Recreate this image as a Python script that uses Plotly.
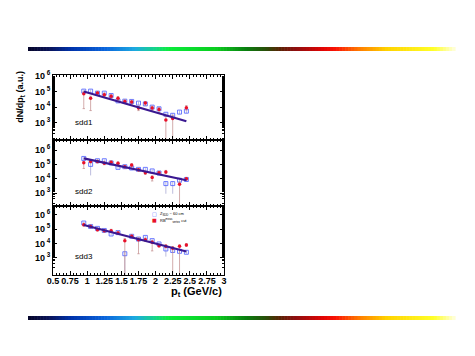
import numpy as np
import plotly.graph_objects as go

# ---------------- data ----------------
pt = [0.95, 1.05, 1.15, 1.25, 1.35, 1.45, 1.55, 1.65, 1.75, 1.85, 1.95, 2.05, 2.15, 2.25, 2.35, 2.45]

red1    = [7.1e4, 3.7e4, 8.1e4, 6.2e4, 5.0e4, 3.7e4, 2.3e4, 2.1e4, 8.7e3, 1.8e4, 8.7e3, 7.1e3, 1.5e3, 1.9e3, None, 9.1e3]
red1_lo = [8e3, 6e3, 6.0e4, 4.6e4, 3.7e4, 2.7e4, 1.7e4, 1.5e4, 6.0e3, 1.3e4, 6.0e3, 4.5e3, 1, 1, None, 6.5e3]
red1_hi = [9.5e4, 5.0e4, 1.0e5, 7.8e4, 6.3e4, 4.7e4, 2.9e4, 2.7e4, 1.15e4, 2.3e4, 1.15e4, 9.5e3, 2.6e3, 3.0e3, None, 1.25e4]
blue1    = [1.05e5, 1.05e5, 7.8e4, 7.8e4, 5.5e4, 2.5e4, 2.4e4, 2.3e4, 1.8e4, 1.6e4, 1.0e4, 7.8e3, 3.5e3, 3.0e3, 4.8e3, 5.5e3]
blue1_lo = [8.5e4, 8.5e4, 6.3e4, 6.3e4, 4.4e4, 2.0e4, 1.9e4, 1.8e4, 1.4e4, 1.2e4, 7.8e3, 6.0e3, 2.5e3, 2.1e3, 3.5e3, 4.1e3]
blue1_hi = [1.3e5, 1.3e5, 9.7e4, 9.7e4, 6.8e4, 3.1e4, 3.0e4, 2.9e4, 2.2e4, 2.0e4, 1.25e4, 9.8e3, 4.5e3, 4.0e3, 6.0e3, 6.9e3]

red2    = [1.3e5, 1.6e5, 1.6e5, 1.2e5, 1.4e5, 1.2e5, 6.9e4, 8.9e4, 4.2e4, 2.6e4, 1.2e4, 2.6e4, 3.0e4, None, 4.1e3, 1.0e4]
red2_lo = [5.2e4, 1.25e5, 1.25e5, 9.5e4, 1.1e5, 9.5e4, 5.4e4, 7.0e4, 3.2e4, 2.0e4, 7.0e3, 2.0e4, 2.3e4, None, 1, 7.8e3]
red2_hi = [1.65e5, 2.0e5, 2.0e5, 1.5e5, 1.75e5, 1.5e5, 8.7e4, 1.1e5, 5.3e4, 3.3e4, 1.6e4, 3.3e4, 3.8e4, None, 6.0e3, 1.25e4]
blue2    = [2.6e5, 1.0e5, 1.8e5, 1.8e5, 1.26e5, 6.2e4, 6.9e4, 5.6e4, 4.5e4, 4.5e4, 3.5e4, 2.5e4, 4.6e3, 4.6e3, 7.9e3, 8.9e3]
blue2_lo = [2.1e5, 1.7e4, 1.45e5, 1.45e5, 1.0e5, 5.0e4, 5.5e4, 4.5e4, 3.6e4, 3.6e4, 2.8e4, 2.0e4, 9e2, 9e2, 6.2e3, 7.0e3]
blue2_hi = [3.2e5, 1.4e5, 2.2e5, 2.2e5, 1.55e5, 7.6e4, 8.5e4, 6.9e4, 5.5e4, 5.5e4, 4.3e4, 3.1e4, 6.5e3, 6.5e3, 9.8e3, 1.1e4]

red3    = [2.0e5, 1.5e5, 8.9e4, 7.6e4, 7.6e4, 5.2e4, 1.55e4, 3.1e4, 1.8e4, 1.8e4, 1.2e4, 6.9e3, 6.3e3, 4.6e3, 6.3e3, 7.8e3]
red3_lo = [1.6e5, 1.2e5, 7.1e4, 6.1e4, 6.1e4, 4.2e4, 1, 2.5e4, 1.9e3, 1.4e4, 3.0e3, 5.5e3, 5.0e3, 1, 1, 6.2e3]
red3_hi = [2.5e5, 1.9e5, 1.1e5, 9.5e4, 9.5e4, 6.5e4, 2.2e4, 3.9e4, 2.5e4, 2.3e4, 1.6e4, 8.7e3, 8.0e3, 6.0e3, 8.0e3, 9.8e3]
blue3    = [2.6e5, 1.5e5, 1.1e5, 7.9e4, 4.5e4, 5.6e4, 1.9e3, 3.1e4, 2.0e4, 2.6e4, 1.55e4, 9.1e3, 4.1e3, 3.2e3, 2.8e3, 2.4e3]
blue3_lo = [2.1e5, 1.2e5, 8.8e4, 6.3e4, 3.6e4, 4.5e4, 1, 2.5e4, 1.6e4, 2.1e4, 1.2e4, 7.2e3, 1.2e3, 2.5e3, 2.2e3, 1.9e3]
blue3_hi = [3.2e5, 1.85e5, 1.35e5, 9.7e4, 5.5e4, 6.9e4, 2.7e3, 3.8e4, 2.5e4, 3.2e4, 1.9e4, 1.1e4, 5.4e3, 4.0e3, 3.5e3, 3.0e3]

fit_x = [0.95, 2.45]
fit1 = [1.0e5, 1.25e3]
fit2 = [2.6e5, 7.8e3]
fit3 = [1.9e5, 2.7e3]

panel_labels = ["sdd1", "sdd2", "sdd3"]
x_ticks = [0.5, 0.75, 1, 1.25, 1.5, 1.75, 2, 2.25, 2.5, 2.75, 3]
x_ticktext = ["0.5", "0.75", "1", "1.25", "1.5", "1.75", "2", "2.25", "2.5", "2.75", "3"]
y_ticks = [1e3, 1e4, 1e5, 1e6]
y_ticktext = ["10<sup> 3</sup>", "10<sup> 4</sup>", "10<sup> 5</sup>", "10<sup> 6</sup>"]
legend_text = ["Z<sub>SDD</sub> ~ 60 cm", "RB<sup>meas</sup><sub>vertex</sub> cut"]

# --------------- styling ---------------
RED = "#e8102a"
BLUE = "#4a5cff"
FIT = "#3a1890"
FONT = "Liberation Sans"

def f(a):
    return np.array([np.nan if v is None else v for v in a], dtype=float)

fig = go.Figure()

panels = [
    (red1, red1_lo, red1_hi, blue1, blue1_lo, blue1_hi, fit1),
    (red2, red2_lo, red2_hi, blue2, blue2_lo, blue2_hi, fit2),
    (red3, red3_lo, red3_hi, blue3, blue3_lo, blue3_hi, fit3),
]
for i, (r, rlo, rhi, b, blo, bhi, fit) in enumerate(panels):
    xa = "x" if i == 0 else "x%d" % (i + 1)
    ya = "y" if i == 0 else "y%d" % (i + 1)
    bv, rv = f(b), f(r)
    fig.add_trace(go.Scatter(
        x=pt, y=bv, mode="markers", xaxis=xa, yaxis=ya, showlegend=False,
        marker=dict(symbol="square-open", size=4, color=BLUE, line=dict(width=0.8, color=BLUE)),
        error_y=dict(type="data", symmetric=False, array=f(bhi) - bv, arrayminus=bv - f(blo),
                     color="#a0a0d0", thickness=0.7, width=0)))
    fig.add_trace(go.Scatter(
        x=pt, y=rv, mode="markers", xaxis=xa, yaxis=ya, showlegend=False,
        marker=dict(symbol="circle", size=3.5, color=RED),
        error_y=dict(type="data", symmetric=False, array=f(rhi) - rv, arrayminus=rv - f(rlo),
                     color="#c08888", thickness=0.7, width=1.2)))
    fig.add_trace(go.Scatter(
        x=fit_x, y=fit, mode="lines", xaxis=xa, yaxis=ya, showlegend=False,
        line=dict(color=FIT, width=2.2)))

# --------------- layout ---------------
domains = [[0.675, 1.0], [0.345, 0.675], [0.0, 0.345]]
yranges = [[1.9, 6.05], [2.1, 6.7], [1.8, 6.6]]
tickfont = dict(family=FONT, size=9, color="black", weight="bold")

layout = dict(
    width=467, height=348,
    margin=dict(l=45, r=251, t=67, b=81),
    paper_bgcolor="white", plot_bgcolor="white",
    showlegend=False,
    font=dict(family=FONT, color="black"),
)
for i in range(3):
    xk = "xaxis" if i == 0 else "xaxis%d" % (i + 1)
    yk = "yaxis" if i == 0 else "yaxis%d" % (i + 1)
    layout[xk] = dict(
        domain=[0, 1], anchor="y" if i == 0 else "y%d" % (i + 1),
        range=[0.5, 3], tickmode="array", tickvals=x_ticks, ticktext=x_ticktext,
        showticklabels=(i == 2), tickfont=tickfont, ticklabelstandoff=-3,
        ticks="inside", ticklen=4, tickwidth=0.8, tickcolor="black",
        minor=dict(ticks="inside", ticklen=2, dtick=0.05, tick0=0.5, tickcolor="black", tickwidth=0.6),
        showline=True, linecolor="black", linewidth=1, mirror="ticks",
        showgrid=False, zeroline=False, matches="x" if i > 0 else None,
    )
    layout[yk] = dict(
        domain=domains[i], anchor="x" if i == 0 else "x%d" % (i + 1),
        type="log", range=yranges[i],
        tickmode="array", tickvals=y_ticks, ticktext=y_ticktext, tickfont=tickfont,
        ticks="inside", ticklen=4, tickwidth=0.8, tickcolor="black",
        minor=dict(ticks="inside", ticklen=2, tickcolor="black", tickwidth=0.6),
        showline=True, linecolor="black", linewidth=1, mirror="ticks",
        showgrid=False, zeroline=False,
    )
fig.update_layout(**layout)

ann = []
for i, lab in enumerate(panel_labels):
    ann.append(dict(text=lab, x=0.79, y=3.0 if i == 0 else 3.1, xref="x" if i == 0 else "x%d" % (i + 1),
                    yref="y" if i == 0 else "y%d" % (i + 1), xanchor="left", yanchor="middle",
                    showarrow=False, font=dict(family=FONT, size=8, color="black")))
ann.append(dict(text="p<sub>t</sub> (GeV/c)", x=1.0, y=-0.085, xref="paper", yref="paper",
                xanchor="right", yanchor="middle", showarrow=False,
                font=dict(family=FONT, size=11, color="black", weight="bold")))
ann.append(dict(text="dN/dp<sub>t</sub> (a.u.)", x=-0.195, y=0.89, xref="paper", yref="paper",
                xanchor="center", yanchor="middle", textangle=-90, showarrow=False,
                font=dict(family=FONT, size=9, color="black", weight="bold")))
# legend (symbols + labels)
leg_y = [0.305, 0.275]
leg_sym = ["□", "■"]
leg_col = [BLUE, RED]
for k in range(2):
    ann.append(dict(text=leg_sym[k], x=0.594, y=leg_y[k], xref="paper", yref="paper",
                    xanchor="center", yanchor="middle", showarrow=False,
                    font=dict(family="DejaVu Sans", size=5, color=leg_col[k])))
    ann.append(dict(text=legend_text[k], x=0.612, y=leg_y[k], xref="paper", yref="paper",
                    xanchor="left", yanchor="middle", showarrow=False,
                    font=dict(family=FONT, size=4, color="black")))
fig.update_layout(annotations=ann)

# --------------- decorative gradient bars ---------------
stops = [
    (0.00, (5, 5, 40)), (0.05, (10, 20, 90)), (0.10, (0, 50, 170)), (0.18, (10, 100, 220)),
    (0.25, (30, 170, 225)), (0.30, (20, 215, 130)), (0.33, (10, 235, 60)), (0.44, (10, 205, 30)),
    (0.51, (10, 128, 16)), (0.555, (40, 80, 10)), (0.59, (90, 35, 5)), (0.625, (140, 15, 15)),
    (0.69, (225, 5, 5)), (0.72, (250, 20, 5)), (0.78, (255, 130, 0)), (0.84, (255, 210, 0)),
    (0.95, (255, 255, 40)), (1.00, (255, 255, 225)),
]
sx = [s[0] for s in stops]
rgb = np.array([s[1] for s in stops], dtype=float)
px0, px1 = 28, 455
to_px = lambda p: (p - 53) / 171.0
to_py = lambda p: (275 - p) / 200.0
n = 140
shapes = []
for (ya, yb) in [(47, 51), (316, 320)]:
    for k in range(n):
        t = (k + 0.5) / n
        c = [int(round(np.interp(t, sx, rgb[:, j]))) for j in range(3)]
        xa = px0 + (px1 - px0) * k / n
        xb = px0 + (px1 - px0) * (k + 1) / n + 0.6
        shapes.append(dict(type="rect", xref="paper", yref="paper",
                           x0=to_px(xa), x1=to_px(xb), y0=to_py(yb), y1=to_py(ya),
                           fillcolor="rgb(%d,%d,%d)" % tuple(c), line=dict(width=0), layer="above"))
fig.update_layout(shapes=shapes)

fig.write_html("out.html")
